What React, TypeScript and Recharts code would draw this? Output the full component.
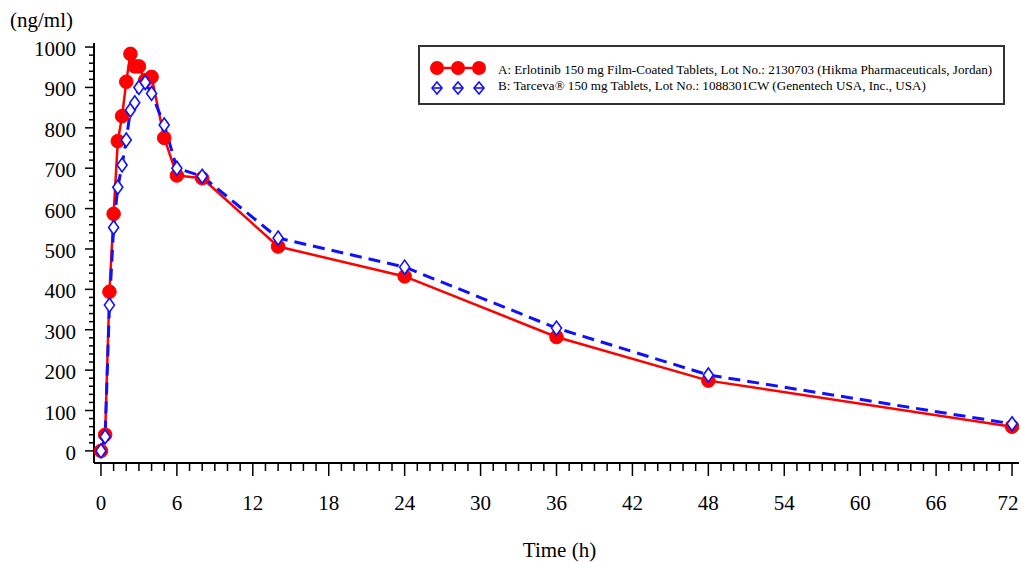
import React from 'react';
import { LineChart, Line, XAxis, YAxis } from 'recharts';

const times = [0, 0.33, 0.67, 1, 1.33, 1.67, 2, 2.33, 2.67, 3, 3.5, 4, 5, 6, 8, 14, 24, 36, 48, 72];
const seriesA = [0, 40, 394, 587, 767, 829, 914, 983, 952, 952, 918, 926, 775, 682, 675, 506, 432, 282, 174, 60];
const seriesB = [0, 35, 361, 553, 653, 708, 770, 844, 862, 900, 912, 885, 807, 700, 680, 527, 455, 304, 188, 67];

const xTickValues = Array.from({ length: 73 }, (_, i) => i);
const yTickValues = Array.from({ length: 51 }, (_, i) => i * 20);
const xMajorStep = 6;
const yMajorStep = 100;

const nameA = 'A: Erlotinib 150 mg Film-Coated Tablets, Lot No.: 2130703 (Hikma Pharmaceuticals, Jordan)';
const nameB = 'B: Tarceva® 150 mg Tablets, Lot No.: 1088301CW (Genentech USA, Inc., USA)';

const data = times.map((t, i) => ({ t, a: seriesA[i], b: seriesB[i] }));

const FONT = '"Liberation Serif", "Times New Roman", serif';

const XTick = (props: any) => {
  const { x, y, payload } = props;
  const v = payload.value;
  const major = v % xMajorStep === 0;
  const tx = Math.min(x, 1008);
  return (
    <g>
      <line x1={x} y1={y} x2={x} y2={y + (major ? 13 : 8)} stroke="#000" strokeWidth={1.5} />
      {major && (
        <text x={tx} y={y + 47} textAnchor="middle" fontFamily={FONT} fontSize={21} fill="#000">
          {v}
        </text>
      )}
    </g>
  );
};

const YTick = (props: any) => {
  const { x, y, payload } = props;
  const v = payload.value;
  const major = v % yMajorStep === 0;
  return (
    <g>
      <line x1={x} y1={y} x2={x - (major ? 9 : 5)} y2={y} stroke="#000" strokeWidth={1.5} />
      {major && (
        <text x={x - 18} y={y + 9} textAnchor="end" fontFamily={FONT} fontSize={21} fill="#000">
          {v}
        </text>
      )}
    </g>
  );
};

const RedDot = (props: any) => {
  const { cx, cy, index } = props;
  return <circle key={`r${index}`} cx={cx} cy={cy} r={6.8} fill="#ff0000" stroke="#ff0000" strokeWidth={1} />;
};

const BlueDot = (props: any) => {
  const { cx, cy, index } = props;
  return (
    <path
      key={`b${index}`}
      d={`M${cx},${cy - 7} L${cx + 5},${cy} L${cx},${cy + 7} L${cx - 5},${cy} Z`}
      fill="#ffffff"
      stroke="#1010ff"
      strokeWidth={1.6}
    />
  );
};

const LegendBox = () => (
  <svg width={587} height={60} style={{ display: 'block' }}>
    <rect x={1} y={1} width={585} height={58} fill="#fff" stroke="#333" strokeWidth={2} />
    <line x1={19} y1={23} x2={61} y2={23} stroke="#ff0000" strokeWidth={2.5} />
    {[19, 40, 61].map((cx) => (
      <circle key={`lc${cx}`} cx={cx} cy={23} r={7} fill="#ff0000" />
    ))}
    {[19, 40, 61].map((cx) => (
      <g key={`ld${cx}`}>
        <path d={`M${cx},${37} L${cx + 5},${43} L${cx},${49} L${cx - 5},${43} Z`} fill="#fff" stroke="#1010ff" strokeWidth={1.6} />
        <line x1={cx - 5} y1={43} x2={cx + 5} y2={43} stroke="#1010ff" strokeWidth={1.6} />
      </g>
    ))}
    <text x={80} y={29} fontFamily={FONT} fontSize={13.1} fill="#000">{nameA}</text>
    <text x={80} y={45} fontFamily={FONT} fontSize={13.1} fill="#000">{nameB}</text>
  </svg>
);

const XLabel = (props: any) => {
  const { viewBox } = props;
  return (
    <text x={viewBox.x + viewBox.width / 2 + 3} y={viewBox.y + 94} textAnchor="middle" fontFamily={FONT} fontSize={21} fill="#000">
      Time (h)
    </text>
  );
};

const YLabel = (props: any) => {
  const { viewBox } = props;
  return (
    <text x={viewBox.x + 10} y={viewBox.y - 16} textAnchor="start" fontFamily={FONT} fontSize={21} fill="#000">
      (ng/ml)
    </text>
  );
};

export default function App() {
  return (
    <div style={{ width: 1021, height: 562, position: 'relative', background: '#fff', overflow: 'hidden' }}>
      <style>{'html,body{margin:0;padding:0;overflow:hidden;background:#fff}'}</style>
      <LineChart width={1021} height={562} data={data} margin={{ top: 43, right: 2, left: 0, bottom: 0 }}>
        <XAxis
          dataKey="t"
          type="number"
          domain={[-0.55, 72.55]}
          ticks={xTickValues}
          interval={0}
          tickSize={0}
          tickMargin={0}
          tickLine={false}
          tick={<XTick />}
          axisLine={{ stroke: '#000', strokeWidth: 2 }}
          height={99}
          allowDataOverflow
          label={<XLabel />}
        />
        <YAxis
          type="number"
          domain={[-30, 1010]}
          ticks={yTickValues}
          interval={0}
          tickSize={0}
          tickMargin={0}
          tickLine={false}
          tick={<YTick />}
          axisLine={{ stroke: '#000', strokeWidth: 2 }}
          width={94}
          allowDataOverflow
          label={<YLabel />}
        />
        <Line
          dataKey="a"
          name={nameA}
          type="linear"
          stroke="#ff0000"
          strokeWidth={2.5}
          dot={<RedDot />}
          activeDot={false}
          isAnimationActive={false}
        />
        <Line
          dataKey="b"
          name={nameB}
          type="linear"
          stroke="#1010ff"
          strokeWidth={3}
          strokeDasharray="12 7"
          dot={<BlueDot />}
          activeDot={false}
          isAnimationActive={false}
        />
      </LineChart>
      <div style={{ position: 'absolute', left: 418, top: 45 }}>
        <LegendBox />
      </div>
    </div>
  );
}
